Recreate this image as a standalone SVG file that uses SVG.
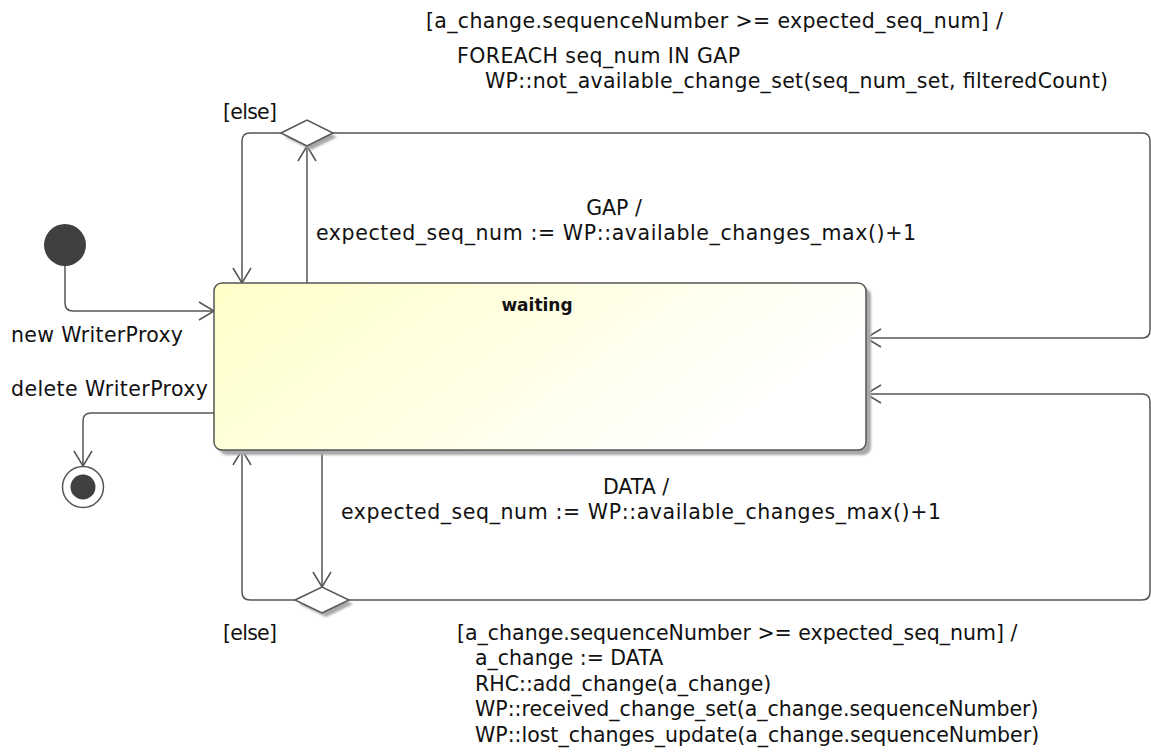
<svg xmlns="http://www.w3.org/2000/svg" width="1151" height="755" viewBox="0 0 1151 755">
<style>
text{font-family:"DejaVu Sans","Liberation Sans",sans-serif;font-size:20.5px;fill:#111}
.line{fill:none;stroke:#555;stroke-width:1.5}
.ttl{font-weight:bold;font-size:17px;text-anchor:middle}
.shadow{fill:#a8a8a8}
</style>
<defs>
<linearGradient id="g" x1="0" y1="0" x2="1" y2="0.35">
<stop offset="0" stop-color="#FFFFC8"/>
<stop offset="1" stop-color="#FFFFFF"/>
</linearGradient>
<filter id="blur" x="-10%" y="-10%" width="120%" height="120%"><feGaussianBlur stdDeviation="1"/></filter>
<marker id="arr" markerUnits="userSpaceOnUse" markerWidth="20" markerHeight="20" refX="15" refY="9" orient="auto" overflow="visible">
<path d="M0,0 L15,9 L0,18" fill="none" stroke="#555" stroke-width="1.5"/>
</marker>
</defs>
<rect width="1151" height="755" fill="#fff"/>

<g id="connectors">
<path class="line" d="M65,266 V303 Q65,311 73,311 H214" marker-end="url(#arr)"/>
<path class="line" d="M214,413 H91 Q83,413 83,421 V466" marker-end="url(#arr)"/>
<path class="line" d="M281,133 H250 Q242,133 242,141 V283" marker-end="url(#arr)"/>
<path class="line" d="M307,283 V146" marker-end="url(#arr)"/>
<path class="line" d="M333,133 H1142 Q1150,133 1150,141 V330 Q1150,338 1142,338 H866" marker-end="url(#arr)"/>
<path class="line" d="M322,450 V587" marker-end="url(#arr)"/>
<path class="line" d="M295,600 H250 Q242,600 242,592 V450" marker-end="url(#arr)"/>
<path class="line" d="M349,600 H1142 Q1150,600 1150,592 V402 Q1150,394 1142,394 H866" marker-end="url(#arr)"/>
</g>

<g id="initial">
<circle cx="65" cy="245" r="21" fill="#404040"/>
</g>

<g id="final">
<circle cx="83" cy="487" r="20.5" fill="#fff" stroke="#555" stroke-width="1.5"/>
<circle cx="83" cy="487" r="12.5" fill="#404040"/>
</g>

<g id="waiting">
<rect class="shadow" x="219" y="288" width="652" height="167" rx="8" filter="url(#blur)"/>
<rect x="214" y="283" width="652" height="167" rx="8" fill="url(#g)" stroke="#555" stroke-width="1.5"/>
<text class="ttl" x="537" y="311">waiting</text>
</g>

<g id="choice_gap">
<polygon class="shadow" points="285,137 311,124 337,137 311,150" filter="url(#blur)"/>
<polygon points="281,133 307,120 333,133 307,146" fill="#fff" stroke="#555" stroke-width="1.5"/>
</g>

<g id="choice_data">
<polygon class="shadow" points="299,604 326,591 353,604 326,617" filter="url(#blur)"/>
<polygon points="295,600 322,587 349,600 322,613" fill="#fff" stroke="#555" stroke-width="1.5"/>
</g>

<g id="labels">
<text x="426" y="28" textLength="577">[a_change.sequenceNumber &gt;= expected_seq_num] /</text>
<text x="457" y="63" textLength="283">FOREACH seq_num IN GAP</text>
<text x="485" y="88" textLength="623">WP::not_available_change_set(seq_num_set, filteredCount)</text>
<text x="223" y="119" textLength="54">[else]</text>
<text x="614" y="215" text-anchor="middle">GAP /</text>
<text x="616" y="240" text-anchor="middle" textLength="600">expected_seq_num := WP::available_changes_max()+1</text>
<text x="11" y="342" textLength="172">new WriterProxy</text>
<text x="11" y="396" textLength="197">delete WriterProxy</text>
<text x="636" y="494" text-anchor="middle">DATA /</text>
<text x="641" y="519" text-anchor="middle" textLength="600">expected_seq_num := WP::available_changes_max()+1</text>
<text x="223" y="640" textLength="54">[else]</text>
<text x="457" y="640">[a_change.sequenceNumber &gt;= expected_seq_num] /</text>
<text x="475" y="665">a_change := DATA</text>
<text x="475" y="691">RHC::add_change(a_change)</text>
<text x="475" y="716">WP::received_change_set(a_change.sequenceNumber)</text>
<text x="475" y="742">WP::lost_changes_update(a_change.sequenceNumber)</text>
</g>
</svg>
